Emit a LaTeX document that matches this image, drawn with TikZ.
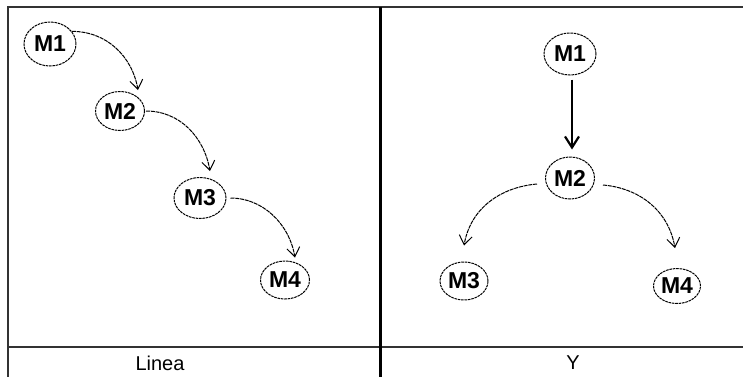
\documentclass[tikz,border=0pt]{standalone}
\usepackage{fontspec}
\setmainfont{Liberation Sans}
\usetikzlibrary{arrows.meta,shapes.geometric}
\begin{document}
\begin{tikzpicture}[x=1pt,y=1pt,
  mnode/.style={ellipse, draw, line width=1pt, dash pattern=on 2.6pt off 0.8pt,
    inner sep=0pt, font=\fontsize{23}{23}\selectfont\bfseries},
  link/.style={line width=1pt, dash pattern=on 4pt off 0.8pt,
    -{Straight Barb[length=9pt,width=13pt,line width=1pt]}},
  strong/.style={line width=2.2pt,
    -{Straight Barb[length=11pt,width=14pt,line width=2.2pt]}},
  frame/.style={line width=2pt, draw=black!80},
  caption/.style={font=\fontsize{20}{20}\selectfont}]
\useasboundingbox (0,0) rectangle (743,-376);
\clip (0,0) rectangle (743,-376);
\fill[white] (0,0) rectangle (743,-376);

% table frame
\draw[frame] (7.5,-380) -- (7.5,-6.5) -- (760,-6.5);
\draw[frame] (7.5,-347) -- (760,-347);
\draw[line width=3pt] (380.5,-6.5) -- (380.5,-380);

% left panel: chain
\node[mnode, minimum width=52pt, minimum height=44pt] (L1) at (50,-44) {M1};
\node[mnode, minimum width=49pt, minimum height=39pt] (L2) at (120,-111) {M2};
\node[mnode, minimum width=52pt, minimum height=41pt] (L3) at (200,-198) {M3};
\node[mnode, minimum width=49pt, minimum height=38pt] (L4) at (285,-280) {M4};

\draw[link] (L1.30) to[out=0,in=100] ([xshift=18pt,yshift=1pt]L2.north);
\draw[link, shorten <=1pt] (L2.east) to[out=0,in=100] ([xshift=10pt,yshift=6pt]L3.north);
\draw[link, shorten <=4pt] (L3.east) to[out=0,in=100] ([xshift=10pt,yshift=3pt]L4.north);

% right panel: fork
\node[mnode, minimum width=52pt, minimum height=42pt] (R1) at (570,-54) {M1};
\node[mnode, minimum width=49pt, minimum height=42pt] (R2) at (570,-178) {M2};
\node[mnode, minimum width=48pt, minimum height=38pt] (R3) at (464,-281) {M3};
\node[mnode, minimum width=47pt, minimum height=35pt] (R4) at (677,-286) {M4};

\draw[strong] ([xshift=2pt,yshift=-4pt]R1.south) -- ([xshift=2pt,yshift=7pt]R2.north);
\draw[link] ([xshift=-8pt,yshift=-6pt]R2.west) to[out=185,in=80] ([yshift=16pt]R3.north);
\draw[link] ([xshift=8pt,yshift=-7pt]R2.east) to[out=-5,in=100] ([xshift=-2pt,yshift=20pt]R4.north);

% captions
\node[caption] (cl) at (160,-363) {Linea};
\node[caption] (cr) at (573,-363) {Y};
\end{tikzpicture}
\end{document}
